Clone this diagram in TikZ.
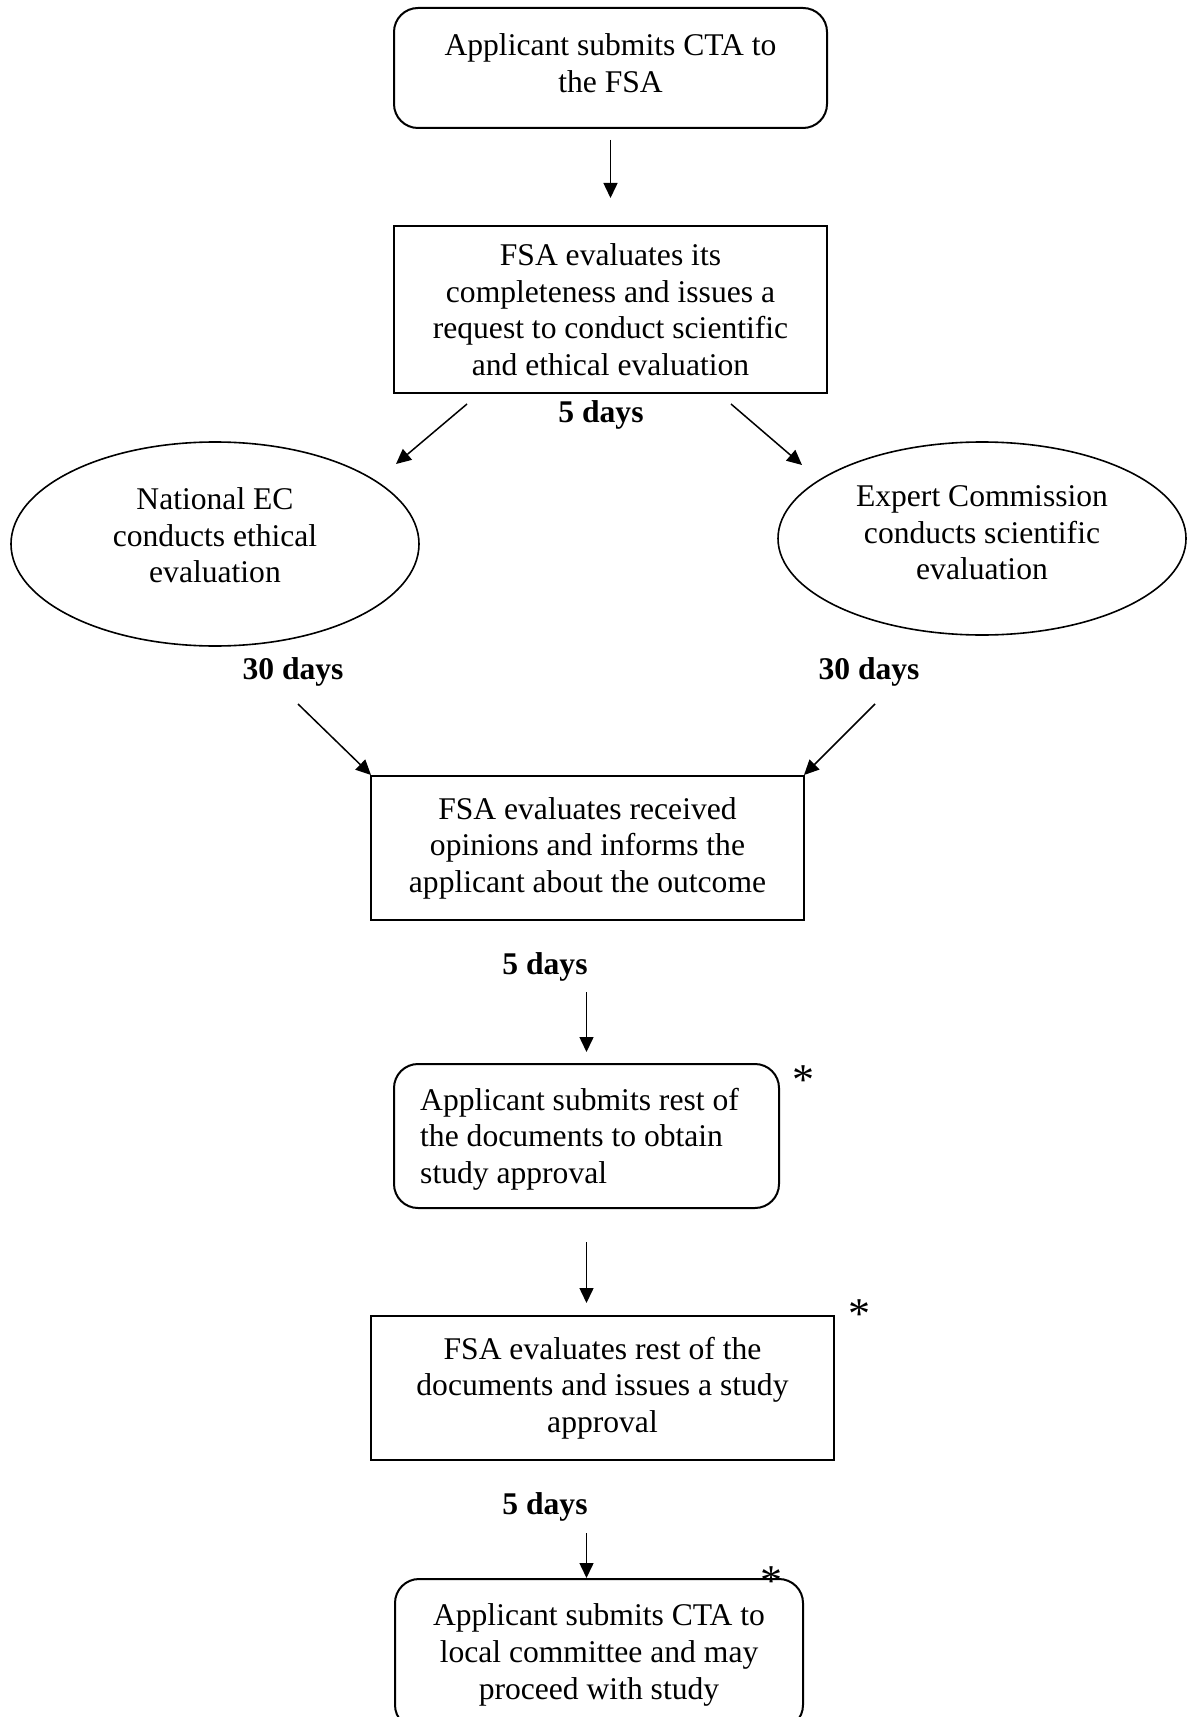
\documentclass[tikz,border=0pt]{standalone}
\usepackage{fontspec}
\setmainfont{Liberation Serif}
\usetikzlibrary{shapes.geometric,arrows.meta}
\begin{document}
\begin{tikzpicture}[x=0.5pt,y=-0.5pt,
  every node/.style={font=\fontsize{15.8}{18.3}\selectfont, inner sep=0pt, outer sep=0pt},
  rbox/.style={draw, line width=1pt, rounded corners=12pt},
  sbox/.style={draw, line width=1pt, align=center},
  oval/.style={draw, ellipse, line width=0.8pt},
  txt/.style={align=center},
  lbl/.style={font=\fontsize{15.8}{18.3}\selectfont\bfseries},
  arr/.style={-{Triangle[length=7.5pt,width=7pt]}, line width=0.75pt},
  starmark/.style={font=\fontsize{22}{22}\selectfont}
]
\useasboundingbox (0,0) rectangle (1193,1717);
\clip (0,0) rectangle (1193,1717);
\fill[white] (0,0) rectangle (1193,1717);

\node[rbox, minimum width=216.5pt, minimum height=60pt] (b1) at (610.5,68) {};
\node[txt] (b1t) at (610.5,63) {Applicant submits CTA to\\the FSA};
\node[sbox, minimum width=216.5pt, minimum height=83.5pt] (b2) at (610.5,309.5)
  {FSA evaluates its\\completeness and issues a\\request to conduct scientific\\and ethical evaluation};
\node[lbl] (t1) at (601,415) {5 days};

\node[oval, minimum width=204pt, minimum height=102pt] (e1) at (215,544) {};
\node[txt] (e1t) at (215,535.5) {National EC\\conducts ethical\\evaluation};
\node[oval, minimum width=204pt, minimum height=96.5pt] (e2) at (982,538.5) {};
\node[txt] (e2t) at (982,533) {Expert Commission\\conducts scientific\\evaluation};

\node[lbl] (t2) at (293,672) {30 days};
\node[lbl] (t3) at (869,672) {30 days};

\node[sbox, minimum width=216.5pt, minimum height=72pt] (b3) at (587.5,848)
  {FSA evaluates received\\opinions and informs the\\applicant about the outcome};
\node[lbl] (t4) at (545,967) {5 days};

\node[rbox, minimum width=192.5pt, minimum height=72pt] (b4) at (586.5,1136) {};
\node[align=left] (b4t) at (579.5,1139) {Applicant submits rest of\\the documents to obtain\\study approval};
\node[starmark] (s1) at (803,1080) {*};

\node[sbox, minimum width=231.5pt, minimum height=72pt] (b5) at (602.5,1388)
  {FSA evaluates rest of the\\documents and issues a study\\approval};
\node[starmark] (s2) at (859,1314) {*};
\node[lbl] (t5) at (545,1506.5) {5 days};

\node[rbox, minimum width=204pt, minimum height=75pt] (b6) at (599,1654) {};
\node[txt] (b6t) at (599,1655) {Applicant submits CTA to\\local committee and may\\proceed with study};
\node[starmark] (s3) at (771,1581) {*};

% connectors
\draw[arr, shorten <=6pt, shorten >=14pt] (b1.south) -- (b2.north);

\coordinate (d1s) at (467,404);
\coordinate (d1e) at (396,464);
\coordinate (d2s) at (731,404);
\coordinate (d2e) at (802,465);
\draw[arr] (d1s) -- (d1e);
\draw[arr] (d2s) -- (d2e);

\coordinate (d3s) at (298,704);
\coordinate (d3e) at (371,775);
\coordinate (d4s) at (875,704);
\coordinate (d4e) at (804,775);
\draw[arr] (d3s) -- (d3e);
\draw[arr] (d4s) -- (d4e);

\draw[arr, shorten <=36pt, shorten >=6pt] (b4.north |- b3.south) -- (b4.north);
\draw[arr, shorten <=17pt, shorten >=6.5pt] (b4.south) -- (b4.south |- b5.north);
\draw[arr, shorten <=36.5pt, shorten >=0.5pt] (b4.south |- b5.south) -- (b4.south |- b6.north);
\end{tikzpicture}
\end{document}
